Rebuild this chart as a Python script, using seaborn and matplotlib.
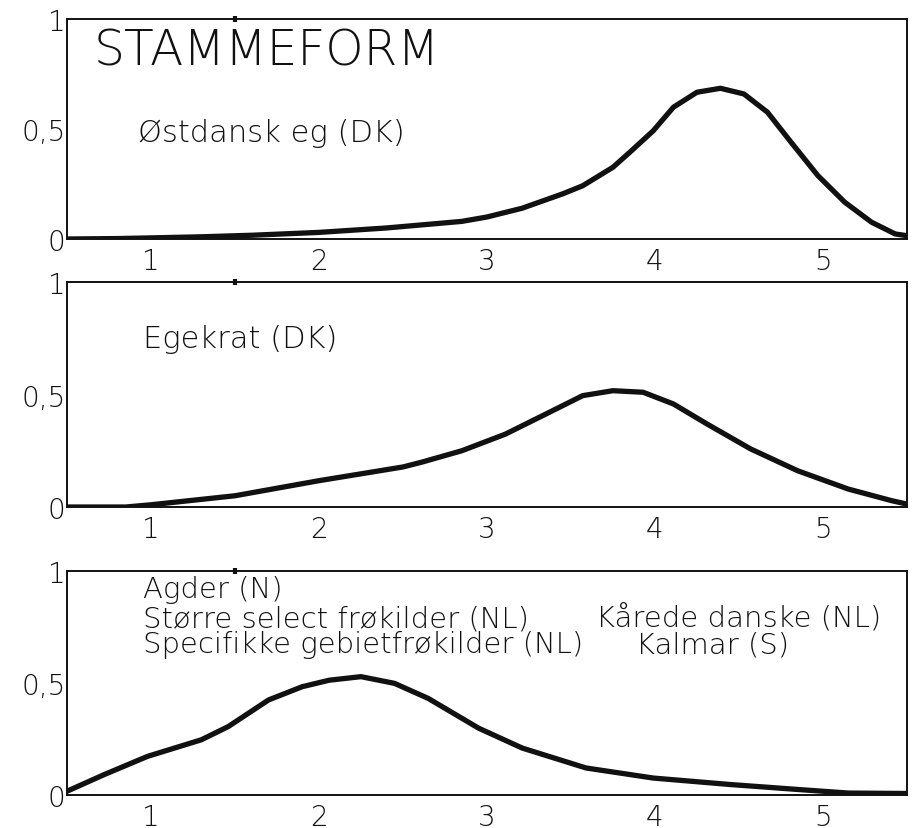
import matplotlib
matplotlib.use("Agg")
import matplotlib.pyplot as plt
from matplotlib.ticker import FixedLocator
import seaborn as sns
import pandas as pd

# ---- data ----
x_dk_east = [0.5, 0.8, 1.0, 1.3, 1.6, 2.0, 2.4, 2.85, 3.0, 3.21, 3.45, 3.57, 3.75, 3.85,
             3.99, 4.11, 4.25, 4.39, 4.53, 4.67, 4.81, 4.97, 5.13, 5.29, 5.43, 5.5]
y_dk_east = [0.0, 0.002, 0.005, 0.01, 0.017, 0.03, 0.05, 0.08, 0.10, 0.14, 0.205, 0.242,
             0.326, 0.394, 0.492, 0.599, 0.667, 0.685, 0.659, 0.576, 0.44, 0.288, 0.167,
             0.076, 0.023, 0.015]

x_egekrat = [0.5, 0.85, 1.0, 1.5, 2.0, 2.5, 2.61, 2.85, 3.11, 3.35, 3.57, 3.75, 3.93,
             4.11, 4.31, 4.57, 4.85, 5.15, 5.41, 5.5]
y_egekrat = [0.0, 0.0, 0.01, 0.05, 0.117, 0.178, 0.199, 0.25, 0.324, 0.413, 0.495, 0.517,
             0.51, 0.458, 0.369, 0.258, 0.161, 0.08, 0.028, 0.013]

x_agder = [0.5, 0.72, 0.98, 1.3, 1.46, 1.7, 1.9, 2.06, 2.25, 2.45, 2.65, 2.95, 3.21,
           3.59, 3.99, 4.45, 4.85, 5.15, 5.5]
y_agder = [0.016, 0.09, 0.172, 0.246, 0.305, 0.424, 0.483, 0.512, 0.528, 0.498, 0.431,
           0.298, 0.209, 0.12, 0.075, 0.046, 0.024, 0.008, 0.006]

x_ticks = [1, 2, 3, 4, 5]
y_ticks = [0, 0.5, 1]
y_tick_labels = ["0", "0,5", "1"]

title_text = "STAMMEFORM"
label_p1 = "Østdansk eg (DK)"
label_p2 = "Egekrat (DK)"
label_p3_lines = ["Agder (N)", "Større select frøkilder (NL)", "Specifikke gebietfrøkilder (NL)"]
label_p3_right = ["Kårede danske (NL)", "Kalmar (S)"]

# ---- figure ----
sns.set_style("white")
plt.rcParams["font.family"] = ["DejaVu Sans"]
plt.rcParams["font.weight"] = 200

ink = "#111111"
fig = plt.figure(figsize=(9.2, 8.29), dpi=100)
rects = [
    [0.0728, 0.7105, 0.913, 0.2654],
    [0.0728, 0.3872, 0.913, 0.2714],
    [0.0728, 0.0400, 0.913, 0.2700],
]
series = [(x_dk_east, y_dk_east), (x_egekrat, y_egekrat), (x_agder, y_agder)]
axes = []
for rect, (xs, ys) in zip(rects, series):
    ax = fig.add_axes(rect)
    df = pd.DataFrame({"x": xs, "y": ys})
    sns.lineplot(data=df, x="x", y="y", ax=ax, color=ink, linewidth=3.8,
                 solid_capstyle="round", solid_joinstyle="round")
    ax.set_xlim(0.5, 5.5)
    ax.set_ylim(0, 1)
    ax.set_xlabel("")
    ax.set_ylabel("")
    ax.set_xticks(x_ticks)
    ax.set_xticklabels([str(t) for t in x_ticks], fontsize=20, color=ink)
    ax.set_yticks(y_ticks)
    ax.set_yticklabels(y_tick_labels, fontsize=20, color=ink)
    ax.yaxis.set_minor_locator(FixedLocator([0.25, 0.75]))
    ax.xaxis.set_minor_locator(FixedLocator([1.5]))
    ax.tick_params(axis="x", which="major", direction="out", length=4, width=1.2,
                   pad=2, color=ink)
    ax.tick_params(axis="x", which="minor", bottom=False, top=True, direction="inout",
                   length=4, width=3, color=ink)
    ax.tick_params(axis="y", which="major", direction="in", length=0, pad=1)
    ax.tick_params(axis="y", which="minor", direction="in", length=3, width=1.2,
                   color=ink)
    for sp in ax.spines.values():
        sp.set_visible(True)
        sp.set_color(ink)
        sp.set_linewidth(1.4)
    axes.append(ax)

ax1, ax2, ax3 = axes
ax1.text(0.66, 0.855, title_text, fontsize=35, va="center", ha="left", color=ink)
ax1.text(0.92, 0.486, label_p1, fontsize=22, va="center", ha="left", color=ink)
ax2.text(0.95, 0.747, label_p2, fontsize=22, va="center", ha="left", color=ink)
for txt, yy in zip(label_p3_lines, [0.885, 0.752, 0.637]):
    ax3.text(0.95, yy, txt, fontsize=21, va="baseline", ha="left", color=ink)
for txt, xx, yy in zip(label_p3_right, [3.65, 3.89], [0.752, 0.637]):
    ax3.text(xx, yy, txt, fontsize=21, va="baseline", ha="left", color=ink)

fig.savefig("out.png", dpi=100)
